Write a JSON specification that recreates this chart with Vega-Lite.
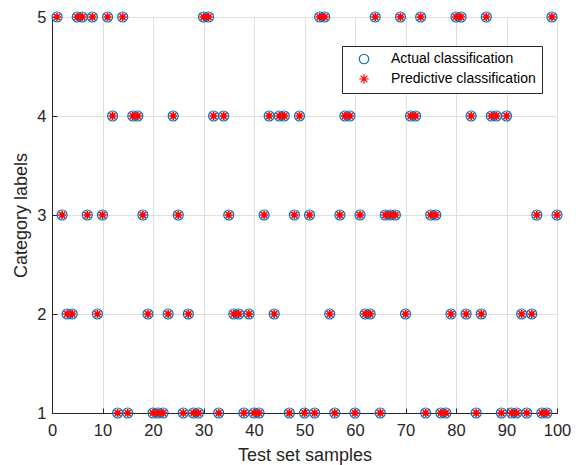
{
  "$schema": "https://vega.github.io/schema/vega-lite/v6.json",
  "width": 505,
  "height": 396,
  "autosize": "none",
  "padding": {"left": 52, "top": 17, "right": 19, "bottom": 52},
  "background": "white",
  "config": {
    "font": "Liberation Sans",
    "view": {"stroke": "#262626", "strokeWidth": 1},
    "axis": {
      "domainColor": "#262626",
      "tickColor": "#262626",
      "gridColor": "#dfdfdf",
      "gridWidth": 1,
      "labelColor": "#262626",
      "labelFont": "Liberation Sans",
      "labelFontSize": 16.5,
      "labelFlush": false,
      "labelOverlap": false,
      "titleColor": "#262626",
      "titleFont": "Liberation Sans",
      "titleFontSize": 18,
      "titleFontWeight": "normal",
      "tickSize": -5
    }
  },
  "data": {
    "values": [
      {"sample": 1, "actual": 5, "predicted": 5},
      {"sample": 2, "actual": 3, "predicted": 3},
      {"sample": 3, "actual": 2, "predicted": 2},
      {"sample": 4, "actual": 2, "predicted": 2},
      {"sample": 5, "actual": 5, "predicted": 5},
      {"sample": 6, "actual": 5, "predicted": 5},
      {"sample": 7, "actual": 3, "predicted": 3},
      {"sample": 8, "actual": 5, "predicted": 5},
      {"sample": 9, "actual": 2, "predicted": 2},
      {"sample": 10, "actual": 3, "predicted": 3},
      {"sample": 11, "actual": 5, "predicted": 5},
      {"sample": 12, "actual": 4, "predicted": 4},
      {"sample": 13, "actual": 1, "predicted": 1},
      {"sample": 14, "actual": 5, "predicted": 5},
      {"sample": 15, "actual": 1, "predicted": 1},
      {"sample": 16, "actual": 4, "predicted": 4},
      {"sample": 17, "actual": 4, "predicted": 4},
      {"sample": 18, "actual": 3, "predicted": 3},
      {"sample": 19, "actual": 2, "predicted": 2},
      {"sample": 20, "actual": 1, "predicted": 1},
      {"sample": 21, "actual": 1, "predicted": 1},
      {"sample": 22, "actual": 1, "predicted": 1},
      {"sample": 23, "actual": 2, "predicted": 2},
      {"sample": 24, "actual": 4, "predicted": 4},
      {"sample": 25, "actual": 3, "predicted": 3},
      {"sample": 26, "actual": 1, "predicted": 1},
      {"sample": 27, "actual": 2, "predicted": 2},
      {"sample": 28, "actual": 1, "predicted": 1},
      {"sample": 29, "actual": 1, "predicted": 1},
      {"sample": 30, "actual": 5, "predicted": 5},
      {"sample": 31, "actual": 5, "predicted": 5},
      {"sample": 32, "actual": 4, "predicted": 4},
      {"sample": 33, "actual": 1, "predicted": 1},
      {"sample": 34, "actual": 4, "predicted": 4},
      {"sample": 35, "actual": 3, "predicted": 3},
      {"sample": 36, "actual": 2, "predicted": 2},
      {"sample": 37, "actual": 2, "predicted": 2},
      {"sample": 38, "actual": 1, "predicted": 1},
      {"sample": 39, "actual": 2, "predicted": 2},
      {"sample": 40, "actual": 1, "predicted": 1},
      {"sample": 41, "actual": 1, "predicted": 1},
      {"sample": 42, "actual": 3, "predicted": 3},
      {"sample": 43, "actual": 4, "predicted": 4},
      {"sample": 44, "actual": 2, "predicted": 2},
      {"sample": 45, "actual": 4, "predicted": 4},
      {"sample": 46, "actual": 4, "predicted": 4},
      {"sample": 47, "actual": 1, "predicted": 1},
      {"sample": 48, "actual": 3, "predicted": 3},
      {"sample": 49, "actual": 4, "predicted": 4},
      {"sample": 50, "actual": 1, "predicted": 1},
      {"sample": 51, "actual": 3, "predicted": 3},
      {"sample": 52, "actual": 1, "predicted": 1},
      {"sample": 53, "actual": 5, "predicted": 5},
      {"sample": 54, "actual": 5, "predicted": 5},
      {"sample": 55, "actual": 2, "predicted": 2},
      {"sample": 56, "actual": 1, "predicted": 1},
      {"sample": 57, "actual": 3, "predicted": 3},
      {"sample": 58, "actual": 4, "predicted": 4},
      {"sample": 59, "actual": 4, "predicted": 4},
      {"sample": 60, "actual": 1, "predicted": 1},
      {"sample": 61, "actual": 3, "predicted": 3},
      {"sample": 62, "actual": 2, "predicted": 2},
      {"sample": 63, "actual": 2, "predicted": 2},
      {"sample": 64, "actual": 5, "predicted": 5},
      {"sample": 65, "actual": 1, "predicted": 1},
      {"sample": 66, "actual": 3, "predicted": 3},
      {"sample": 67, "actual": 3, "predicted": 3},
      {"sample": 68, "actual": 3, "predicted": 3},
      {"sample": 69, "actual": 5, "predicted": 5},
      {"sample": 70, "actual": 2, "predicted": 2},
      {"sample": 71, "actual": 4, "predicted": 4},
      {"sample": 72, "actual": 4, "predicted": 4},
      {"sample": 73, "actual": 5, "predicted": 5},
      {"sample": 74, "actual": 1, "predicted": 1},
      {"sample": 75, "actual": 3, "predicted": 3},
      {"sample": 76, "actual": 3, "predicted": 3},
      {"sample": 77, "actual": 1, "predicted": 1},
      {"sample": 78, "actual": 1, "predicted": 1},
      {"sample": 79, "actual": 2, "predicted": 2},
      {"sample": 80, "actual": 5, "predicted": 5},
      {"sample": 81, "actual": 5, "predicted": 5},
      {"sample": 82, "actual": 2, "predicted": 2},
      {"sample": 83, "actual": 4, "predicted": 4},
      {"sample": 84, "actual": 1, "predicted": 1},
      {"sample": 85, "actual": 2, "predicted": 2},
      {"sample": 86, "actual": 5, "predicted": 5},
      {"sample": 87, "actual": 4, "predicted": 4},
      {"sample": 88, "actual": 4, "predicted": 4},
      {"sample": 89, "actual": 1, "predicted": 1},
      {"sample": 90, "actual": 4, "predicted": 4},
      {"sample": 91, "actual": 1, "predicted": 1},
      {"sample": 92, "actual": 1, "predicted": 1},
      {"sample": 93, "actual": 2, "predicted": 2},
      {"sample": 94, "actual": 1, "predicted": 1},
      {"sample": 95, "actual": 2, "predicted": 2},
      {"sample": 96, "actual": 3, "predicted": 3},
      {"sample": 97, "actual": 1, "predicted": 1},
      {"sample": 98, "actual": 1, "predicted": 1},
      {"sample": 99, "actual": 5, "predicted": 5},
      {"sample": 100, "actual": 3, "predicted": 3}
    ]
  },
  "encoding": {
    "x": {
      "field": "sample",
      "type": "quantitative",
      "scale": {"domain": [0, 100], "nice": false, "zero": false},
      "axis": {"values": [0, 10, 20, 30, 40, 50, 60, 70, 80, 90, 100], "title": "Test set samples", "labelPadding": 14, "titlePadding": 8}
    }
  },
  "layer": [
    {
      "mark": {"type": "point", "filled": false, "strokeWidth": 1.2, "size": 100, "opacity": 1, "clip": false},
      "encoding": {
        "y": {
          "field": "actual",
          "type": "quantitative",
          "scale": {"domain": [1, 5], "nice": false, "zero": false},
          "axis": {"values": [1, 2, 3, 4, 5], "format": "d", "title": "Category labels", "labelPadding": 11, "titlePadding": 6}
        },
        "color": {
          "datum": "Actual classification",
          "type": "nominal",
          "scale": {"domain": ["Actual classification", "Predictive classification"], "range": ["#0072BD", "#FF0000"]},
          "legend": {
            "orient": "none",
            "legendX": 290,
            "legendY": 29,
            "title": null,
            "padding": 6,
            "symbolOffset": 9,
            "labelOffset": 20,
            "rowPadding": 4,
            "strokeColor": "#262626",
            "fillColor": "white",
            "labelFont": "Liberation Sans",
            "labelFontSize": 14,
            "labelColor": "#000000",
            "symbolSize": 90,
            "symbolStrokeWidth": 1.2,
            "symbolOpacity": 1
          }
        },
        "shape": {
          "datum": "Actual classification",
          "type": "nominal",
          "scale": {"domain": ["Actual classification", "Predictive classification"], "range": ["circle", "M-1,0L1,0M0,-1L0,1M-0.7071,-0.7071L0.7071,0.7071M-0.7071,0.7071L0.7071,-0.7071"]}
        }
      }
    },
    {
      "mark": {"type": "point", "filled": false, "strokeWidth": 1.6, "size": 64, "opacity": 1, "clip": false},
      "encoding": {
        "y": {"field": "predicted", "type": "quantitative"},
        "color": {"datum": "Predictive classification", "type": "nominal"},
        "shape": {"datum": "Predictive classification", "type": "nominal"}
      }
    }
  ]
}
